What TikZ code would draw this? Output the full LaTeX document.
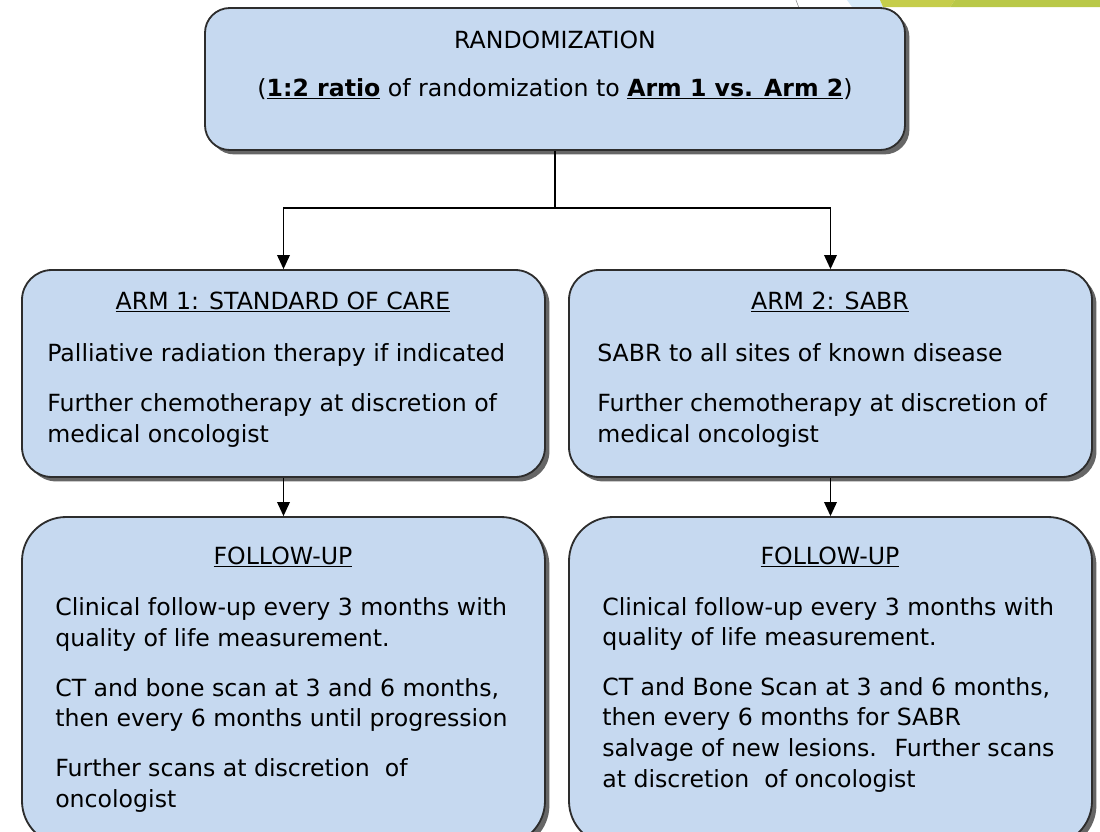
\documentclass[tikz,border=0pt]{standalone}
\usepackage{fontspec}
\setmainfont{DejaVu Sans}
\usetikzlibrary{positioning,fit,shadows,arrows.meta}
\definecolor{boxblue}{RGB}{198,217,240}
\definecolor{rimgray}{RGB}{45,45,45}
\definecolor{barlime}{RGB}{185,200,72}
\definecolor{barolive}{RGB}{197,205,75}
\definecolor{barsky}{RGB}{214,234,250}

\begin{document}
\begin{tikzpicture}[
    x=0.025cm, y=-0.025cm,
    box/.style={draw=rimgray, line width=1.3pt, fill=boxblue, inner sep=0pt,
        drop shadow={shadow xshift=1.1mm, shadow yshift=-1.1mm, fill=black!60, opacity=1}},
    txt/.style={anchor=base west, align=left, inner sep=0pt, font=\fontsize{16.8}{21.7}\selectfont},
    head/.style={anchor=base, inner sep=0pt, font=\fontsize{16.8}{21.7}\selectfont},
    link/.style={line width=1pt, -{Triangle[width=9pt,length=10pt]}}
]
\useasboundingbox (0,0) rectangle (1100,831);
% slide decoration, top right
\fill[barsky] (847,0) -- (880,0) -- (883,7) -- (852,7) -- cycle;
\fill[barolive] (880,0) -- (955,0) -- (950,7) -- (883,7) -- cycle;
\fill[barlime] (955,0) -- (1100,0) -- (1100,7) -- (950,7) -- cycle;
\draw[black!45, line width=0.4pt] (796,0) -- (799,8);

% boxes
\node[box, rounded corners=0.62cm, fit={(205,8) (905,150)}] (rand) {};
\node[box, rounded corners=0.75cm, fit={(22,270) (545,477)}] (arm1) {};
\node[box, rounded corners=0.75cm, fit={(569,270) (1092,477)}] (arm2) {};
\node[box, rounded corners=1.1cm, fit={(22,517) (545,845)}] (fup1) {};
\node[box, rounded corners=1.1cm, fit={(569,517) (1092,845)}] (fup2) {};

% connectors
\coordinate (split) at (rand.south |- 0,208);
\draw[line width=1pt] (rand.south) -- (split);
\draw[link] (split) -| (arm1.north);
\draw[link] (split) -| (arm2.north);
\draw[link] (arm1.south) -- (fup1.north);
\draw[link] (arm2.south) -- (fup2.north);

% texts (multi-line nodes sit on their last baseline)
\node[head] (randh) at (555,48) {RANDOMIZATION};
\node[head] (randr) at (555,96) {(\textbf{\underline{1:2 ratio}} of randomization to \textbf{\underline{Arm 1 vs. Arm 2}})};

\node[head] (arm1h) at (283,309) {\underline{ARM 1: STANDARD OF CARE}};
\node[txt] (arm1t) at (47,442) {Palliative radiation therapy if indicated\\[13.8pt]
    Further chemotherapy at discretion of\\ medical oncologist};

\node[head] (arm2h) at (830,309) {\underline{ARM 2: SABR}};
\node[txt] (arm2t) at (597,442) {SABR to all sites of known disease\\[13.8pt]
    Further chemotherapy at discretion of\\ medical oncologist};

\node[head] (fup1h) at (283,564) {\underline{FOLLOW-UP}};
\node[txt] (fup1t) at (55,807) {Clinical follow-up every 3 months with\\ quality of life measurement.\\[13.8pt]
    CT and bone scan at 3 and 6 months,\\ then every 6 months until progression\\[13.8pt]
    Further scans at discretion~ of\\ oncologist};

\node[head] (fup2h) at (830,564) {\underline{FOLLOW-UP}};
\node[txt] (fup2t) at (602,787) {Clinical follow-up every 3 months with\\ quality of life measurement.\\[13.8pt]
    CT and Bone Scan at 3 and 6 months,\\ then every 6 months for SABR\\
    salvage of new lesions.~ Further scans\\ at discretion~ of oncologist};
\end{tikzpicture}
\end{document}
